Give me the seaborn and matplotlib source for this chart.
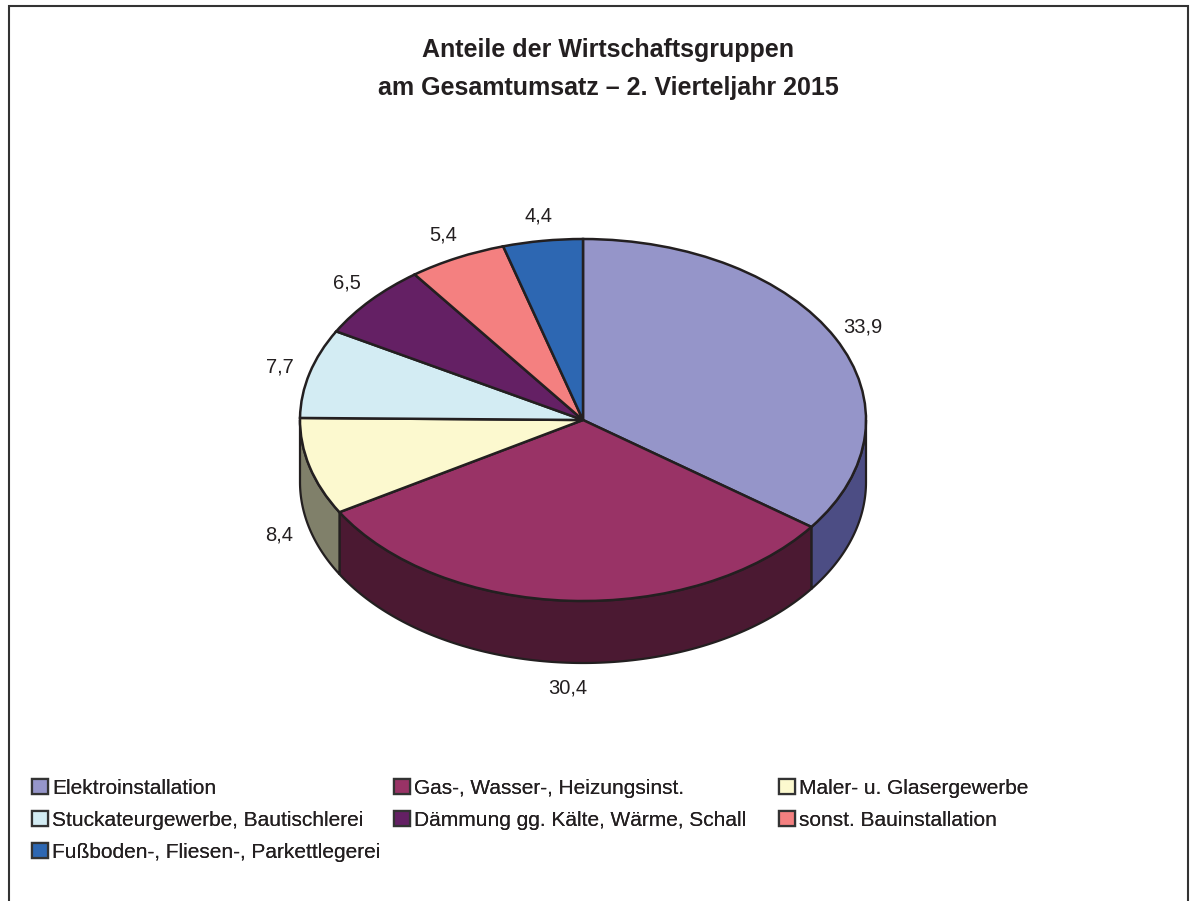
import numpy as np
import matplotlib
matplotlib.use("Agg")
import matplotlib.pyplot as plt
from matplotlib.patches import Wedge, Polygon, Patch, Rectangle
from matplotlib.transforms import Affine2D
import seaborn as sns

sns.set_theme(style="white")
plt.rcParams['font.family'] = ['Liberation Sans', 'DejaVu Sans']

# ---- data ----
categories = ["Elektroinstallation", "Gas-, Wasser-, Heizungsinst.", "Maler- u. Glasergewerbe",
              "Stuckateurgewerbe, Bautischlerei", "Dämmung gg. Kälte, Wärme, Schall",
              "sonst. Bauinstallation", "Fußboden-, Fliesen-, Parkettlegerei"]
values = [33.9, 30.4, 8.4, 7.7, 6.5, 5.4, 4.4]
title = "Anteile der Wirtschaftsgruppen\nam Gesamtumsatz – 2. Vierteljahr 2015"

# ---- style ----
top_colors = ["#9595C9", "#993366", "#FCF9CF", "#D3ECF3", "#642064", "#F48080", "#2D67B2"]
side_colors = ["#4C4D84", "#4B1932", "#80806A", "#6A7679", "#321032", "#7A4040", "#173459"]
edge = "#231F20"
txt = "#231F20"
W, H = 1190, 901
cx, cy, R = 583, 420, 283          # pixel centre and radius of the pie
k = 181 / 283                      # vertical squash (tilt)
depth = 62 / 283                   # side thickness

fig = plt.figure(figsize=(W / 100, H / 100), dpi=100)
ax = fig.add_axes([0, 0, 1, 1])
ax.set_xlim(-cx / R, (W - cx) / R)
ax.set_ylim(-(H - cy) / R, cy / R)
ax.axis("off")

squash = Affine2D().scale(1, k) + ax.transData
total = sum(values)
spans = [v / total * 360 for v in values]
theta2s = 90 - np.concatenate([[0], np.cumsum(spans)[:-1]])
theta1s = theta2s - np.array(spans)

# side faces (front half only)
for t1, t2, sc in zip(theta1s, theta2s, side_colors):
    for shift in (0, -360, 360):
        a, b = max(t1 + shift, -180), min(t2 + shift, 0)
        if b > a:
            t = np.radians(np.linspace(a, b, 120))
            upper = np.column_stack([np.cos(t), k * np.sin(t)])
            lower = np.column_stack([np.cos(t[::-1]), k * np.sin(t[::-1]) - depth])
            ax.add_patch(Polygon(np.vstack([upper, lower]), closed=True, facecolor=sc,
                                 edgecolor=edge, lw=1.6, zorder=1))

# top wedges
for t1, t2, c in zip(theta1s, theta2s, top_colors):
    ax.add_patch(Wedge((0, 0), 1, t1, t2, facecolor=c, edgecolor=edge, lw=1.8,
                       transform=squash, zorder=2))

# value labels
for t1, t2, v in zip(theta1s, theta2s, values):
    m = np.radians((t1 + t2) / 2)
    x = 1.11 * np.cos(m)
    y = 1.14 * k * np.sin(m) - (depth if np.sin(m) < 0 else 0)
    ax.text(x, y, f"{v:.1f}".replace(".", ","), ha="center", va="center",
            fontsize=14.5, color=txt, zorder=3)

# title
fig.text(608 / W, 1 - 69 / H, title, ha="center", va="center", fontsize=18,
         fontweight="bold", color=txt, linespacing=1.7)

# legend in three columns (row-major order like the reference)
handles = [Patch(facecolor=c, edgecolor="#333333", lw=1.6) for c in top_colors]
col_x = [32, 394, 779]
for ci, x0 in enumerate(col_x):
    idx = list(range(ci, len(categories), 3))
    lg = fig.legend([handles[i] for i in idx], [categories[i] for i in idx],
                    loc="upper left", bbox_to_anchor=(x0 / W, 1 - 779 / H),
                    frameon=False, fontsize=15, handlelength=0.75, handleheight=0.75,
                    handletextpad=0.2, labelspacing=0.62, borderpad=0, borderaxespad=0,
                    labelcolor=txt)
    fig.add_artist(lg)

# outer frame
fig.add_artist(Rectangle((9 / W, -0.01), (1188 - 9) / W, 1 - 6 / H + 0.01,
                         transform=fig.transFigure, fill=False, edgecolor="#333333",
                         lw=1.5))

fig.savefig("out.png", dpi=100)
